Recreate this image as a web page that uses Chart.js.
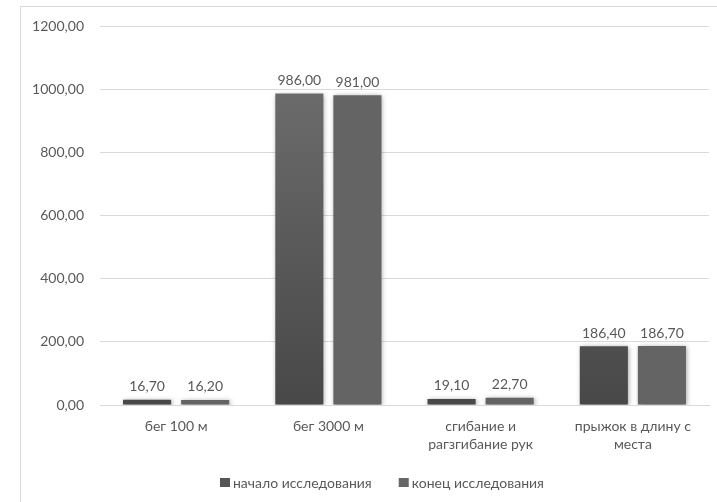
<!DOCTYPE html>
<html>
<head>
<meta charset="utf-8">
<script src="https://cdn.jsdelivr.net/npm/chart.js@4/dist/chart.umd.min.js"></script>
<style>
  html, body { margin: 0; padding: 0; background: #fff; }
  #wrap { position: relative; width: 717px; height: 502px; overflow: hidden; }
  #frame { position: absolute; left: 20px; top: 6px; width: 720px; height: 520px; border: 1px solid #d9d9d9; box-sizing: border-box; }
  #c { position: absolute; left: 0; top: 0; }
</style>
</head>
<body>
<div id="wrap">
  <div id="frame"></div>
  <canvas id="c" width="717" height="502"></canvas>
</div>
<script>
const categories = [
  "бег 100 м",
  "бег 3000 м",
  ["сгибание и", "рагзгибание рук"],
  ["прыжок в длину с", "места"]
];
const seriesNames = ["начало исследования", "конец исследования"];
const startValues = [16.7, 986.0, 19.1, 186.4];
const endValues = [16.2, 981.0, 22.7, 186.7];
const yTicks = [0, 200, 400, 600, 800, 1000, 1200];

const FONT = "Lato, 'Open Sans', sans-serif";
const TEXT = "#595959";
const FONT_SIZE = 14;
const SWATCH = ["#555555", "#666666"];
const fmt = v => v.toFixed(2).replace(".", ",");

function startFill(ctx) {
  const area = ctx.chart.chartArea;
  if (!area) return "#5a5a5a";
  const g = ctx.chart.ctx.createLinearGradient(0, area.top, 0, area.bottom);
  g.addColorStop(0, "#727272");
  g.addColorStop(1, "#484848");
  return g;
}

// soft shadow under the bars, then value labels above them
const barDecor = {
  id: "barDecor",
  beforeDatasetsDraw(chart) {
    const c = chart.ctx;
    c.save();
    c.shadowColor = "rgba(0,0,0,0.4)";
    c.shadowBlur = 5;
    c.shadowOffsetX = 1;
    c.shadowOffsetY = 1;
  },
  afterDatasetsDraw(chart) {
    const c = chart.ctx;
    c.restore();
    c.save();
    c.font = FONT_SIZE + "px " + FONT;
    c.fillStyle = TEXT;
    c.textAlign = "center";
    c.textBaseline = "bottom";
    chart.data.datasets.forEach((ds, i) => {
      chart.getDatasetMeta(i).data.forEach((bar, j) => {
        c.fillText(fmt(ds.data[j]), bar.x, bar.y - 6);
      });
    });
    c.restore();
  }
};

// compact legend row under the axis: small square, then the series name
const bottomLegend = {
  id: "bottomLegend",
  afterDraw(chart) {
    const c = chart.ctx;
    c.save();
    c.font = FONT_SIZE + "px " + FONT;
    const box = 10, gap = 3, itemGap = 27, cy = 483;
    const widths = seriesNames.map(n => c.measureText(n).width);
    const total = widths.reduce((a, w) => a + box + gap + w, 0) + itemGap * (seriesNames.length - 1);
    let x = 382 - total / 2;
    c.textBaseline = "middle";
    c.textAlign = "left";
    seriesNames.forEach((n, i) => {
      c.fillStyle = SWATCH[i];
      c.fillRect(x, cy - 5, box, box - 1);
      c.fillStyle = TEXT;
      c.fillText(n, x + box + gap, cy);
      x += box + gap + widths[i] + itemGap;
    });
    c.restore();
  }
};

new Chart(document.getElementById("c"), {
  type: "bar",
  data: {
    labels: categories,
    datasets: [
      { label: seriesNames[0], data: startValues, backgroundColor: startFill,
        categoryPercentage: 0.763, barPercentage: 0.828 },
      { label: seriesNames[1], data: endValues, backgroundColor: "#646464",
        categoryPercentage: 0.763, barPercentage: 0.828 }
    ]
  },
  options: {
    responsive: false,
    animation: false,
    devicePixelRatio: 1,
    layout: { padding: { top: 26, right: 8, bottom: 37, left: 0 } },
    scales: {
      x: {
        grid: { display: false, drawTicks: false },
        border: { display: true, color: "#d9d9d9", width: 1 },
        ticks: { color: TEXT, font: { family: FONT, size: FONT_SIZE, lineHeight: 1.3 }, padding: 12, maxRotation: 0, autoSkip: false },
        afterFit(s) { s.height = 60; }
      },
      y: {
        min: 0, max: 1200,
        afterBuildTicks(s) { s.ticks = yTicks.map(v => ({ value: v })); },
        grid: { color: "#d9d9d9", drawTicks: false },
        border: { display: false },
        ticks: { color: TEXT, font: { family: FONT, size: FONT_SIZE }, padding: 16, callback: v => fmt(v) },
        afterFit(s) { s.width = 100; }
      }
    },
    plugins: {
      tooltip: { enabled: false },
      legend: { display: false }
    }
  },
  plugins: [barDecor, bottomLegend]
});
</script>
</body>
</html>
